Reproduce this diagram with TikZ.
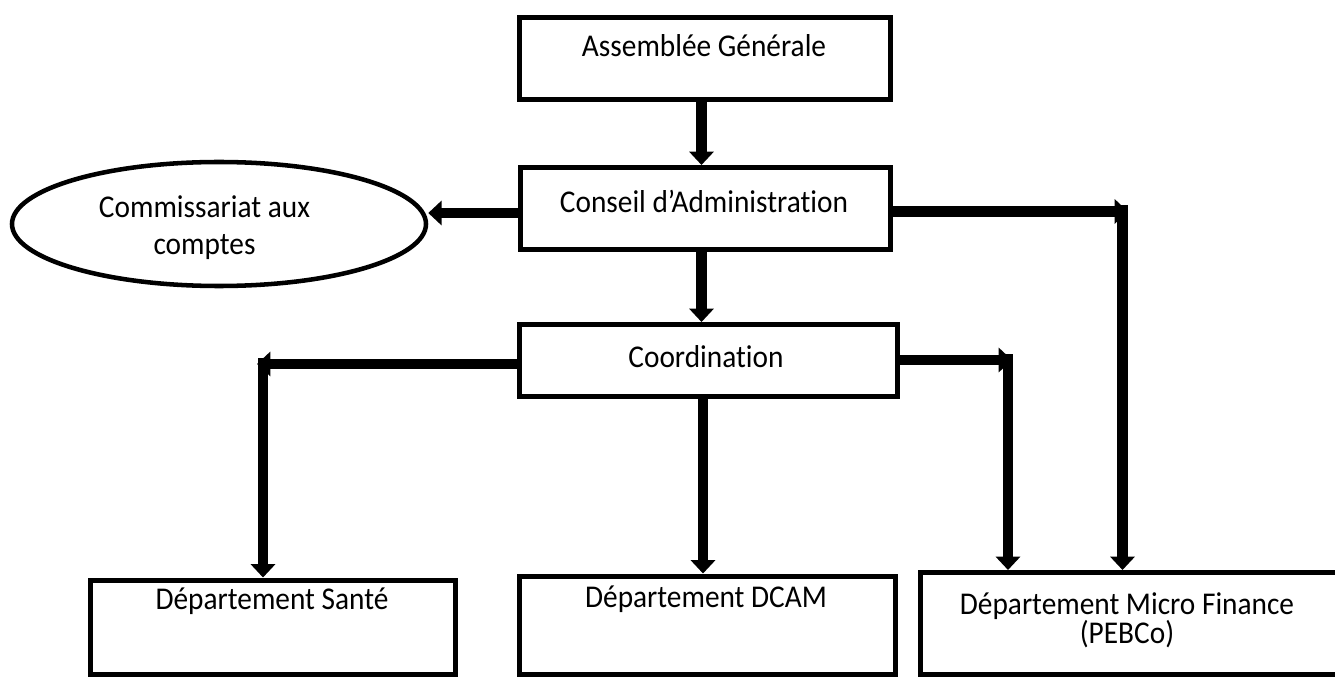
\documentclass[tikz,border=0pt]{standalone}
\usepackage{fontspec}
\usepackage{graphicx}
\setmainfont{Carlito}[Ligatures=NoCommon]
\usetikzlibrary{arrows.meta,fit,shapes.geometric}
\newcommand{\tall}[1]{\scalebox{1}[1.08]{#1}}
\begin{document}
\begin{tikzpicture}[x=0.75pt,y=-0.75pt,
  box/.style={draw=black,line width=3.75pt,inner sep=0pt,rectangle},
  oval/.style={draw=black,line width=3.4pt,ellipse,inner sep=0pt},
  lbl/.style={anchor=base,inner sep=0pt,font=\fontsize{22}{26}\selectfont},
  conn/.style={line width=8pt,-{Triangle[length=10pt,width=18pt]}}]
\useasboundingbox (0,0) rectangle (1335,677);
\clip (0,0) rectangle (1335,677);
% boxes
\coordinate (ag1) at (519.5,17.5); \coordinate (ag2) at (890,99.5);
\node[box,fit=(ag1)(ag2)] (ag) {};
\coordinate (ca1) at (520,167.5); \coordinate (ca2) at (890.5,249.5);
\node[box,fit=(ca1)(ca2)] (ca) {};
\coordinate (co1) at (519.5,324.5); \coordinate (co2) at (897.5,396.5);
\node[box,fit=(co1)(co2)] (co) {};
\coordinate (ds1) at (90,580); \coordinate (ds2) at (455,674.5);
\node[box,fit=(ds1)(ds2)] (ds) {};
\coordinate (dd1) at (519.5,576); \coordinate (dd2) at (895.5,674.5);
\node[box,fit=(dd1)(dd2)] (dd) {};
\coordinate (mf1) at (920,572.5); \coordinate (mf2) at (1350,674.5);
\node[box,fit=(mf1)(mf2)] (mf) {};
\node[oval,minimum width=310.5pt,minimum height=93pt] (cc) at (219,224) {};
% labels
\node[lbl] (agt) at (704,57) {\tall{Assemblée Générale}};
\node[lbl] (cat) at (704,213) {\tall{Conseil d’Administration}};
\node[lbl] (cot) at (706,367) {\tall{Coordination}};
\node[lbl] (cct1) at (204.5,218) {\tall{Commissariat aux}};
\node[lbl] (cct2) at (204.5,255) {\tall{comptes}};
\node[lbl] (dst) at (272,609) {\tall{Département Santé}};
\node[lbl] (ddt) at (706,607) {\tall{Département DCAM}};
\node[lbl] (mft1) at (1127,614) {\tall{Département Micro Finance}};
\node[lbl] (mft2) at (1127,643) {\tall{(PEBCo)}};
% connectors
\coordinate (k1) at (1128,211.5);
\coordinate (k1b) at (1122.5,205);
\coordinate (k2) at (257,364);
\coordinate (k2b) at (263,358);
\coordinate (k3) at (1012,360);
\coordinate (k3b) at (1008,354);
\draw[conn] (ag.south -| 701.5,0) -- (ca.north -| 701.5,0);
\draw[conn] (ca.west |- 0,213) -- (cc.east |- 0,213);
\draw[conn] (ca.south -| 701.5,0) -- (co.north -| 701.5,0);
\draw[conn] (co.south -| 703,0) -- (dd.north -| 703,0);
\draw[conn] (ca.east |- 0,211.5) -- (k1);
\draw[conn] (k1b) -- (mf.north -| k1b);
\draw[conn] (co.west |- 0,364) -- (k2);
\draw[conn] (k2b) -- (ds.north -| k2b);
\draw[conn] (co.east |- 0,360) -- (k3);
\draw[conn] (k3b) -- (mf.north -| k3b);
\end{tikzpicture}
\end{document}
